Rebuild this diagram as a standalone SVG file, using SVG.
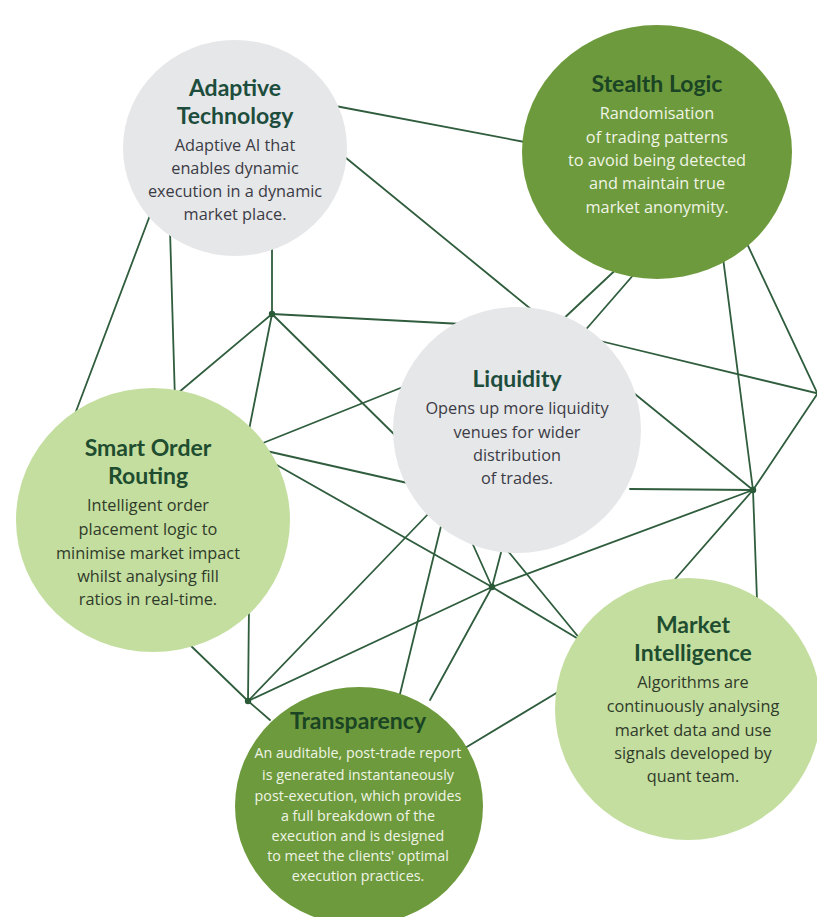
<svg xmlns="http://www.w3.org/2000/svg" width="817" height="917" viewBox="0 0 817 917">
<style>
.ln{stroke:#2f5d3d;stroke-width:1.8;fill:none;stroke-linecap:round}
.dot{fill:#2a5a38}
.gray{fill:#e6e7e9}
.dark{fill:#6d9a3c}
.light{fill:#c4de9f}
text{font-family:"Open Sans","Noto Sans","Liberation Sans",sans-serif;text-anchor:middle}
.t{font-family:Lato,"Open Sans","Liberation Sans",sans-serif;font-size:23px;font-weight:700}
.tg{fill:#1d4d3c}
.td{fill:#1a4424}
.tl{fill:#1f4d30}
.b{font-size:16.3px}
.bg{fill:#3b3b45}
.bd{fill:#f0f4e6}
.bl{fill:#2f3a2a}
.bs{font-size:14.3px}
</style>
<rect width="817" height="917" fill="#ffffff"/>
<g id="connectors">
<line class="ln" x1="330" y1="105" x2="530" y2="143"/>
<line class="ln" x1="340" y1="153" x2="532" y2="310"/>
<line class="ln" x1="152" y1="210" x2="72" y2="422"/>
<line class="ln" x1="170" y1="230" x2="175" y2="400"/>
<line class="ln" x1="272" y1="245" x2="272" y2="314"/>
<line class="ln" x1="272" y1="314" x2="172" y2="398"/>
<line class="ln" x1="272" y1="314" x2="248" y2="435"/>
<line class="ln" x1="272" y1="314" x2="462" y2="324"/>
<line class="ln" x1="272" y1="314" x2="402" y2="442"/>
<line class="ln" x1="258" y1="445" x2="408" y2="385"/>
<line class="ln" x1="262" y1="450" x2="412" y2="484"/>
<line class="ln" x1="268" y1="460" x2="492" y2="587"/>
<line class="ln" x1="492" y1="587" x2="585" y2="643"/>
<line class="ln" x1="470" y1="538" x2="492" y2="587"/>
<line class="ln" x1="503" y1="545" x2="492" y2="587"/>
<line class="ln" x1="492" y1="587" x2="753" y2="490"/>
<line class="ln" x1="492" y1="587" x2="248" y2="701"/>
<line class="ln" x1="492" y1="587" x2="430" y2="700"/>
<line class="ln" x1="432" y1="510" x2="248" y2="701"/>
<line class="ln" x1="443" y1="518" x2="399" y2="698"/>
<line class="ln" x1="503" y1="545" x2="585" y2="645"/>
<line class="ln" x1="465" y1="748" x2="568" y2="686"/>
<line class="ln" x1="188" y1="643" x2="248" y2="701"/>
<line class="ln" x1="249" y1="605" x2="248" y2="701"/>
<line class="ln" x1="248" y1="701" x2="270" y2="720"/>
<line class="ln" x1="630" y1="489" x2="753" y2="490"/>
<line class="ln" x1="630" y1="390" x2="753" y2="490"/>
<line class="ln" x1="722" y1="250" x2="753" y2="490"/>
<line class="ln" x1="753" y1="490" x2="820" y2="390"/>
<line class="ln" x1="753" y1="490" x2="757" y2="600"/>
<line class="ln" x1="753" y1="490" x2="670" y2="585"/>
<line class="ln" x1="742" y1="233" x2="820" y2="399"/>
<line class="ln" x1="596" y1="340" x2="820" y2="394"/>
<line class="ln" x1="624" y1="262" x2="560" y2="322"/>
<line class="ln" x1="642" y1="265" x2="582" y2="334"/>
</g>
<g id="hubs">
<circle class="dot" cx="272" cy="314" r="3.2"/>
<circle class="dot" cx="753" cy="490" r="3.2"/>
<circle class="dot" cx="492" cy="587" r="3.2"/>
<circle class="dot" cx="248" cy="701" r="3.2"/>
</g>
<g id="adaptive-technology">
<ellipse class="gray" cx="235" cy="148" rx="112" ry="108"/>
<text class="t tg" x="235" y="96">Adaptive</text>
<text class="t tg" x="235" y="124">Technology</text>
<text class="b bg" x="235" y="151">Adaptive AI that</text>
<text class="b bg" x="235" y="174">enables dynamic</text>
<text class="b bg" x="235" y="197">execution in a dynamic</text>
<text class="b bg" x="235" y="220">market place.</text>
</g>
<g id="stealth-logic">
<ellipse class="dark" cx="657" cy="152" rx="135" ry="127"/>
<text class="t td" x="657" y="92">Stealth Logic</text>
<text class="b bd" x="657" y="119">Randomisation</text>
<text class="b bd" x="657" y="143">of trading patterns</text>
<text class="b bd" x="657" y="166">to avoid being detected</text>
<text class="b bd" x="657" y="189">and maintain true</text>
<text class="b bd" x="657" y="213">market anonymity.</text>
</g>
<g id="liquidity">
<ellipse class="gray" cx="517" cy="430" rx="124" ry="123"/>
<text class="t tg" x="517" y="387">Liquidity</text>
<text class="b bg" x="517" y="414">Opens up more liquidity</text>
<text class="b bg" x="517" y="438">venues for wider</text>
<text class="b bg" x="517" y="461">distribution</text>
<text class="b bg" x="517" y="484">of trades.</text>
</g>
<g id="smart-order-routing">
<ellipse class="light" cx="153" cy="520" rx="137" ry="132"/>
<text class="t tl" x="148" y="456">Smart Order</text>
<text class="t tl" x="148" y="484">Routing</text>
<text class="b bl" x="148" y="511">Intelligent order</text>
<text class="b bl" x="148" y="535">placement logic to</text>
<text class="b bl" x="148" y="559">minimise market impact</text>
<text class="b bl" x="148" y="582">whilst analysing fill</text>
<text class="b bl" x="148" y="605">ratios in real-time.</text>
</g>
<g id="market-intelligence">
<ellipse class="light" cx="688" cy="709" rx="133" ry="131"/>
<text class="t tl" x="693" y="633">Market</text>
<text class="t tl" x="693" y="661">Intelligence</text>
<text class="b bl" x="693" y="688">Algorithms are</text>
<text class="b bl" x="693" y="712">continuously analysing</text>
<text class="b bl" x="693" y="736">market data and use</text>
<text class="b bl" x="693" y="759">signals developed by</text>
<text class="b bl" x="693" y="782">quant team.</text>
</g>
<g id="transparency">
<ellipse class="dark" cx="359" cy="806" rx="124" ry="119"/>
<text class="t td" x="358" y="729">Transparency</text>
<text class="bs bd" x="358" y="758">An auditable, post-trade report</text>
<text class="bs bd" x="358" y="780">is generated instantaneously</text>
<text class="bs bd" x="358" y="801">post-execution, which provides</text>
<text class="bs bd" x="358" y="821">a full breakdown of the</text>
<text class="bs bd" x="358" y="841">execution and is designed</text>
<text class="bs bd" x="358" y="861">to meet the clients' optimal</text>
<text class="bs bd" x="358" y="881">execution practices.</text>
</g>
</svg>
